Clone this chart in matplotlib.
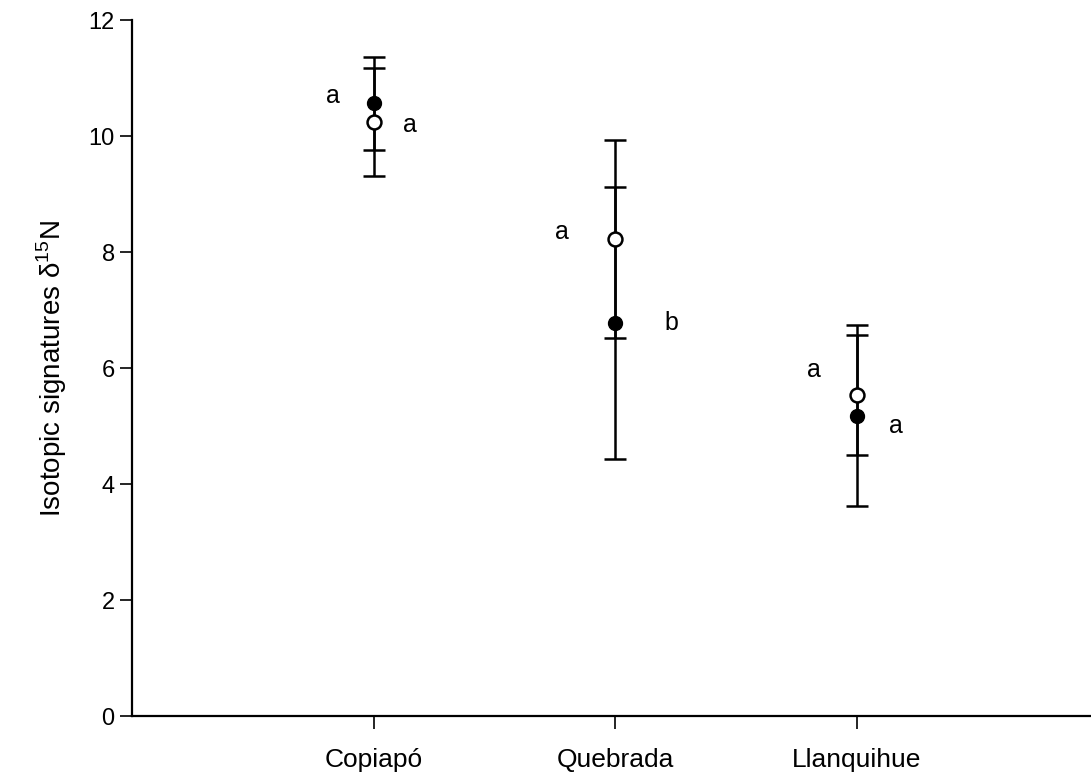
import matplotlib
matplotlib.use("Agg")
import matplotlib.pyplot as plt

plt.rcParams['font.family'] = ['Liberation Sans', 'DejaVu Sans']
plt.rcParams['mathtext.fontset'] = 'custom'
plt.rcParams['mathtext.rm'] = 'Liberation Sans'

sitios = ['Copiapó', 'Quebrada', 'Llanquihue']
pos = [1, 2, 3]

# circulos llenos
media_llena = [10.57, 6.78, 5.18]
err_llena = [0.80, 2.35, 1.56]
letra_llena = ['a', 'b', 'a']

# circulos vacios
media_vacia = [10.25, 8.23, 5.54]
err_vacia = [0.93, 1.70, 1.04]
letra_vacia = ['a', 'a', 'a']

fig = plt.figure(figsize=(10.91, 7.81), dpi=100)
ax = fig.add_axes([0.121, 0.083, 0.886, 0.891])

ax.errorbar(pos, media_llena, yerr=err_llena, fmt='o', color='black',
            mfc='black', mec='black', ms=10, elinewidth=1.8, capsize=8,
            capthick=1.8, zorder=3)
ax.errorbar(pos, media_vacia, yerr=err_vacia, fmt='o', color='black',
            mfc='white', mec='black', ms=10, mew=1.8, elinewidth=1.8,
            capsize=8, capthick=1.8, zorder=4)

# letras
dx_llena = [-0.17, 0.23, 0.16]
dx_vacia = [0.15, -0.22, -0.18]
dy_llena = [0.12, 0.0, -0.18]
dy_vacia = [-0.05, 0.12, 0.43]
for i in range(3):
    ax.text(pos[i] + dx_llena[i], media_llena[i] + dy_llena[i], letra_llena[i],
            fontsize=18, ha='center', va='center')
    ax.text(pos[i] + dx_vacia[i], media_vacia[i] + dy_vacia[i], letra_vacia[i],
            fontsize=18, ha='center', va='center')

ax.set_xlim(0, 4)
ax.set_ylim(0, 12)
ax.set_yticks([0, 2, 4, 6, 8, 10, 12])
ax.set_xticks(pos)
ax.set_xticklabels(sitios, fontsize=19)
ax.tick_params(axis='y', labelsize=17, length=9, width=1.2, direction='out')
ax.tick_params(axis='x', length=9, width=1.2, direction='out', pad=14)
ax.spines['top'].set_visible(False)
ax.spines['right'].set_visible(False)
ax.spines['left'].set_linewidth(1.6)
ax.spines['bottom'].set_linewidth(1.6)
ax.set_ylabel('Isotopic signatures δ$^{15}$N', fontsize=20, labelpad=14)

fig.savefig('out.png', dpi=100)
